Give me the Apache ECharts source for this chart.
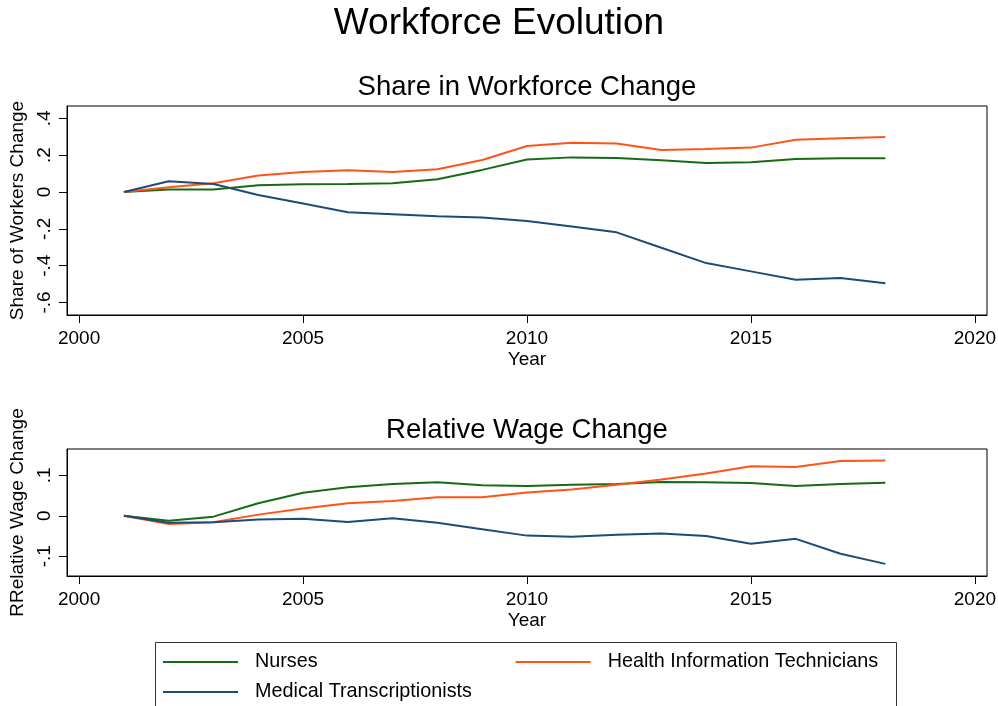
<!DOCTYPE html>
<html>
<head>
<meta charset="utf-8">
<title>Workforce Evolution</title>
<script src="https://cdn.jsdelivr.net/npm/echarts@6/dist/echarts.min.js"></script>
<style>
  html, body { margin: 0; padding: 0; background: #fff; }
  #chart { width: 998px; height: 706px; }
</style>
</head>
<body>
<div id="chart"></div>
<script>
// data
const years = [2001, 2002, 2003, 2004, 2005, 2006, 2007, 2008, 2009, 2010, 2011, 2012, 2013, 2014, 2015, 2016, 2017, 2018];

const shareNurses = [0, 0.013, 0.013, 0.036, 0.042, 0.043, 0.047, 0.069, 0.12, 0.176, 0.188, 0.185, 0.172, 0.158, 0.161, 0.179, 0.183, 0.183];
const shareHIT = [0, 0.026, 0.047, 0.089, 0.109, 0.118, 0.109, 0.123, 0.174, 0.25, 0.268, 0.263, 0.228, 0.234, 0.241, 0.284, 0.292, 0.299];
const shareMT = [0, 0.058, 0.043, -0.016, -0.062, -0.11, -0.121, -0.132, -0.138, -0.158, -0.188, -0.219, -0.303, -0.386, -0.431, -0.476, -0.467, -0.496];

const wageNurses = [0, -0.012, -0.002, 0.031, 0.057, 0.071, 0.079, 0.083, 0.076, 0.074, 0.077, 0.079, 0.084, 0.083, 0.081, 0.074, 0.079, 0.082];
const wageHIT = [0, -0.02, -0.016, 0.003, 0.018, 0.031, 0.037, 0.046, 0.046, 0.058, 0.065, 0.077, 0.09, 0.105, 0.123, 0.121, 0.136, 0.137];
const wageMT = [0, -0.017, -0.016, -0.009, -0.007, -0.015, -0.006, -0.017, -0.033, -0.049, -0.052, -0.047, -0.044, -0.05, -0.069, -0.057, -0.094, -0.119];

const yearTicks = [2000, 2005, 2010, 2015, 2020];
const shareTicks = [-0.6, -0.4, -0.2, 0, 0.2, 0.4];
const wageTicks = [-0.1, 0, 0.1];

const names = ['Nurses', 'Health Information Technicians', 'Medical Transcriptionists'];
const colors = ['#156c15', '#ff5418', '#1d4b78'];

const font = 'Liberation Sans, Arial, sans-serif';

const pairs = (ys) => years.map((y, i) => [y, ys[i]]);

// stata style: .4 / -.2 / 0
const fmt = (v) => {
  if (Math.abs(v) < 1e-9) return '0';
  const s = Math.abs(v).toFixed(1).replace(/^0/, '');
  return (v < 0 ? '-' : '') + s;
};

const chart = echarts.init(document.getElementById('chart'));

const xAxisBase = (gridIndex) => ({
  type: 'value',
  gridIndex: gridIndex,
  min: 1999.73,
  max: 2020.27,
  name: 'Year',
  nameLocation: 'middle',
  nameGap: 35,
  nameTextStyle: { color: '#000', fontSize: 19, fontFamily: font },
  splitLine: { show: false },
  axisLine: { show: true, onZero: false, lineStyle: { color: '#000', width: 1 } },
  axisTick: { show: true, length: 8, customValues: yearTicks, lineStyle: { color: '#000' } },
  axisLabel: { customValues: yearTicks, color: '#000', fontSize: 19, fontFamily: font, margin: 14, formatter: (v) => String(v) }
});

const yAxisBase = (gridIndex, min, max, ticks, name) => ({
  type: 'value',
  gridIndex: gridIndex,
  min: min,
  max: max,
  name: name,
  nameLocation: 'middle',
  nameGap: 38,
  nameTextStyle: { color: '#000', fontSize: 19, fontFamily: font },
  splitLine: { show: false },
  axisLine: { show: true, lineStyle: { color: '#000', width: 1 } },
  axisTick: { show: true, length: 8, customValues: ticks, lineStyle: { color: '#000' } },
  axisLabel: { customValues: ticks, rotate: 90, color: '#000', fontSize: 19, fontFamily: font, margin: 13, formatter: fmt }
});

const lineSeries = (name, data, color, idx) => ({
  name: name,
  type: 'line',
  xAxisIndex: idx,
  yAxisIndex: idx,
  data: pairs(data),
  showSymbol: false,
  symbol: 'none',
  lineStyle: { color: color, width: 2 },
  itemStyle: { color: color },
  emphasis: { disabled: true },
  animation: false
});

const legendBase = {
  left: 163,
  padding: 0,
  icon: 'rect',
  itemWidth: 75,
  itemHeight: 2,
  textStyle: { color: '#000', fontSize: 19.8, fontFamily: font, padding: [0, 0, 0, 12] },
  selectedMode: false
};

const option = {
  backgroundColor: '#fff',
  animation: false,
  grid: [
    { left: 67, right: 11, top: 106, height: 209, outerBoundsMode: 'none', containLabel: false, show: true, borderColor: '#000', borderWidth: 1, backgroundColor: '#fff' },
    { left: 67, right: 11, top: 449, height: 127, outerBoundsMode: 'none', containLabel: false, show: true, borderColor: '#000', borderWidth: 1, backgroundColor: '#fff' }
  ],
  xAxis: [xAxisBase(0), xAxisBase(1)],
  yAxis: [
    yAxisBase(0, -0.668, 0.467, shareTicks, 'Share of Workers Change'),
    yAxisBase(1, -0.149, 0.1655, wageTicks, 'RRelative Wage Change')
  ],
  legend: [
    Object.assign({}, legendBase, { data: [names[0], names[1]], top: 652, itemGap: 198 }),
    Object.assign({}, legendBase, { data: [names[2]], top: 682 })
  ],
  graphic: [
    { type: 'text', x: 499, y: 24, style: { text: 'Workforce Evolution', font: '37px ' + font, fill: '#000', textAlign: 'center', textVerticalAlign: 'middle' } },
    { type: 'text', x: 527, y: 87, style: { text: 'Share in Workforce Change', font: '27.5px ' + font, fill: '#000', textAlign: 'center', textVerticalAlign: 'middle' } },
    { type: 'text', x: 527, y: 430, style: { text: 'Relative Wage Change', font: '27.5px ' + font, fill: '#000', textAlign: 'center', textVerticalAlign: 'middle' } },
    { type: 'rect', shape: { x: 155.5, y: 642.5, width: 741, height: 80 }, style: { fill: 'none', stroke: '#333', lineWidth: 1 }, z: 10 }
  ],
  series: [
    lineSeries(names[0], shareNurses, colors[0], 0),
    lineSeries(names[1], shareHIT, colors[1], 0),
    lineSeries(names[2], shareMT, colors[2], 0),
    lineSeries(names[0], wageNurses, colors[0], 1),
    lineSeries(names[1], wageHIT, colors[1], 1),
    lineSeries(names[2], wageMT, colors[2], 1)
  ]
};

chart.setOption(option);
</script>
</body>
</html>
